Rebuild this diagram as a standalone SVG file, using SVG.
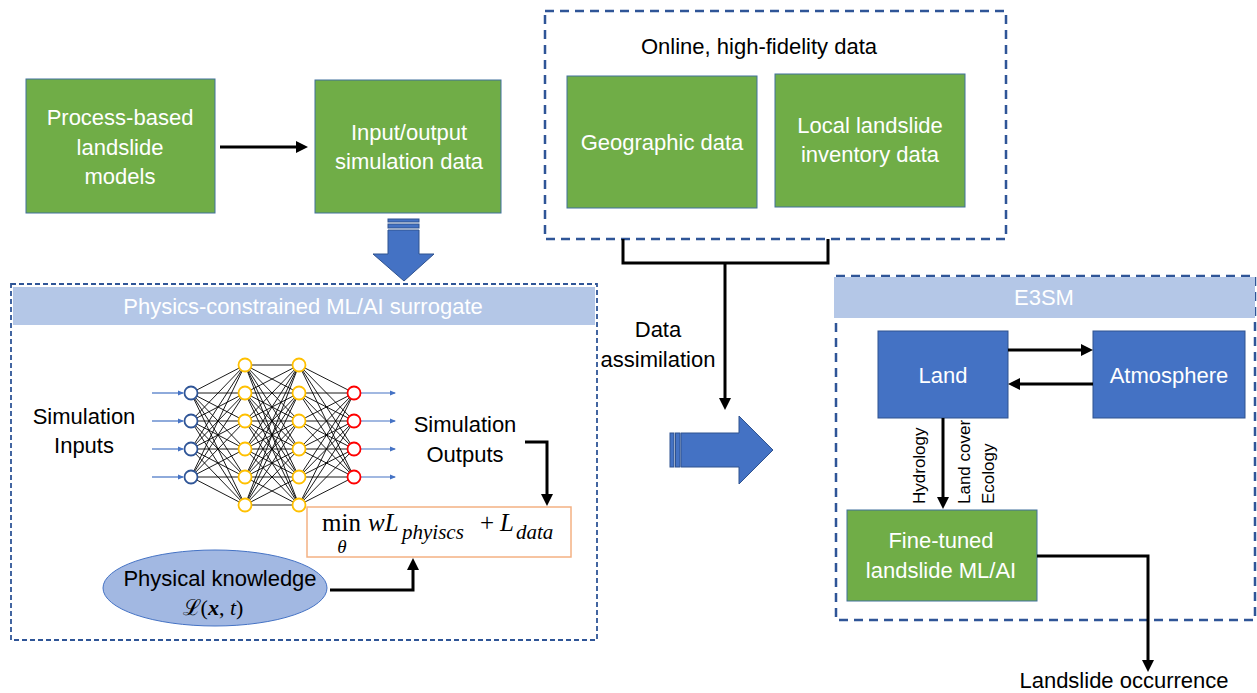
<svg xmlns="http://www.w3.org/2000/svg" width="1257" height="693" viewBox="0 0 1257 693">
<style>
text{font-family:"Liberation Sans",Arial,sans-serif;font-size:22px;fill:#000}
.w{fill:#fff}
.c{text-anchor:middle}
.green{fill:#70ad47;stroke:#41719c;stroke-width:1}
.blue{fill:#4472c4;stroke:#2f528f;stroke-width:1}
.band{fill:#b4c7e7}
.dash{fill:none;stroke:#2f5597;stroke-width:2.5;stroke-dasharray:9 6}
.dashs{fill:none;stroke:#2f5597;stroke-width:1.8;stroke-dasharray:5 3}
.conn{fill:none;stroke:#000;stroke-width:3}
.nn{fill:none;stroke:#000;stroke-width:0.9}
.ia{stroke:#4472c4;stroke-width:1.2}
.nin{fill:#fff;stroke:#2f5597;stroke-width:1.8}
.nh{fill:#fff;stroke:#ffc000;stroke-width:1.8}
.nout{fill:#fff;stroke:#ff0000;stroke-width:1.8}
text.math{font-family:"Liberation Serif","Times New Roman",serif}
text.big{font-size:25px}
text.sub{font-size:21px}
text.th{font-size:19px}
text.rot{font-size:17px}
.it{font-style:italic}
</style>
<defs>
<marker id="ah" markerUnits="userSpaceOnUse" markerWidth="12" markerHeight="12" refX="2" refY="6" orient="auto">
<path d="M0,0 L12,6 L0,12 z" fill="#000"/>
</marker>
<marker id="sa" markerUnits="userSpaceOnUse" markerWidth="6" markerHeight="6" refX="5" refY="3" orient="auto">
<path d="M0,0.5 L6,3 L0,5.5 z" fill="#4472c4"/>
</marker>
</defs>

<g id="panel-surrogate">
<rect class="dashs" x="11" y="284" width="586" height="356"/>
<rect class="band" x="13" y="287" width="582" height="38"/>
<text class="w c" x="303" y="314">Physics-constrained ML/AI surrogate</text>
</g>

<g id="panel-online">
<rect class="dash" x="545" y="11" width="461" height="228"/>
<text class="c" x="759" y="54">Online, high-fidelity data</text>
</g>

<g id="panel-e3sm">
<rect class="dash" x="836" y="276" width="419" height="344"/>
<rect class="band" x="834" y="277" width="421" height="41"/>
<text class="w c" x="1044" y="305">E3SM</text>
</g>

<g id="process-models">
<rect class="green" x="26" y="79" width="189" height="134"/>
<text class="w c" x="120" y="125">Process-based</text>
<text class="w c" x="120" y="155">landslide</text>
<text class="w c" x="120" y="184">models</text>
</g>

<g id="io-data">
<rect class="green" x="315" y="80" width="186" height="133"/>
<text class="w c" x="409" y="140">Input/output</text>
<text class="w c" x="409" y="169">simulation data</text>
</g>

<g id="geographic">
<rect class="green" x="567" y="76" width="190" height="132"/>
<text class="w c" x="662" y="150">Geographic data</text>
</g>

<g id="inventory">
<rect class="green" x="775" y="74" width="190" height="133"/>
<text class="w c" x="870" y="133">Local landslide</text>
<text class="w c" x="870" y="162">inventory data</text>
</g>

<g id="down-block-arrow">
<rect class="blue" x="388" y="219" width="31" height="3"/>
<rect class="blue" x="388" y="224" width="31" height="4"/>
<polygon class="blue" points="388,230 419,230 419,254 434,254 404,281 373,254 388,254"/>
</g>

<g id="right-block-arrow">
<rect class="blue" x="670" y="433" width="4" height="34"/>
<rect class="blue" x="675.5" y="433" width="4.5" height="34"/>
<polygon class="blue" points="681,433 739,433 739,416 773,450 739,484 739,467 681,467"/>
</g>

<g id="data-assimilation-label">
<text class="c" x="658" y="337">Data</text>
<text class="c" x="658" y="367">assimilation</text>
</g>

<g id="sim-inputs">
<text class="c" x="84" y="424">Simulation</text>
<text class="c" x="84" y="453">Inputs</text>
</g>

<g id="sim-outputs">
<text class="c" x="465" y="432">Simulation</text>
<text class="c" x="465" y="462">Outputs</text>
</g>

<g id="neural-network">
<path class="nn" d="M191 393L245 365M191 393L245 393M191 393L245 421M191 393L245 449M191 393L245 477M191 393L245 505M191 421L245 365M191 421L245 393M191 421L245 421M191 421L245 449M191 421L245 477M191 421L245 505M191 449L245 365M191 449L245 393M191 449L245 421M191 449L245 449M191 449L245 477M191 449L245 505M191 477L245 365M191 477L245 393M191 477L245 421M191 477L245 449M191 477L245 477M191 477L245 505"/>
<path class="nn" d="M245 365L299 365M245 365L299 393M245 365L299 421M245 365L299 449M245 365L299 477M245 365L299 505M245 393L299 365M245 393L299 393M245 393L299 421M245 393L299 449M245 393L299 477M245 393L299 505M245 421L299 365M245 421L299 393M245 421L299 421M245 421L299 449M245 421L299 477M245 421L299 505M245 449L299 365M245 449L299 393M245 449L299 421M245 449L299 449M245 449L299 477M245 449L299 505M245 477L299 365M245 477L299 393M245 477L299 421M245 477L299 449M245 477L299 477M245 477L299 505M245 505L299 365M245 505L299 393M245 505L299 421M245 505L299 449M245 505L299 477M245 505L299 505"/>
<path class="nn" d="M299 365L354 393M299 365L354 421M299 365L354 449M299 365L354 477M299 393L354 393M299 393L354 421M299 393L354 449M299 393L354 477M299 421L354 393M299 421L354 421M299 421L354 449M299 421L354 477M299 449L354 393M299 449L354 421M299 449L354 449M299 449L354 477M299 477L354 393M299 477L354 421M299 477L354 449M299 477L354 477M299 505L354 393M299 505L354 421M299 505L354 449M299 505L354 477"/>
<g>
<line class="ia" x1="152" y1="393" x2="183" y2="393" marker-end="url(#sa)"/>
<line class="ia" x1="152" y1="421" x2="183" y2="421" marker-end="url(#sa)"/>
<line class="ia" x1="152" y1="449" x2="183" y2="449" marker-end="url(#sa)"/>
<line class="ia" x1="152" y1="477" x2="183" y2="477" marker-end="url(#sa)"/>
<line class="ia" x1="361" y1="393" x2="395" y2="393" marker-end="url(#sa)"/>
<line class="ia" x1="361" y1="421" x2="395" y2="421" marker-end="url(#sa)"/>
<line class="ia" x1="361" y1="449" x2="395" y2="449" marker-end="url(#sa)"/>
<line class="ia" x1="361" y1="477" x2="395" y2="477" marker-end="url(#sa)"/>
</g>
<circle class="nin" cx="191" cy="393" r="6.5"/><circle class="nin" cx="191" cy="421" r="6.5"/><circle class="nin" cx="191" cy="449" r="6.5"/><circle class="nin" cx="191" cy="477" r="6.5"/>
<circle class="nh" cx="245" cy="365" r="6.5"/><circle class="nh" cx="245" cy="393" r="6.5"/><circle class="nh" cx="245" cy="421" r="6.5"/><circle class="nh" cx="245" cy="449" r="6.5"/><circle class="nh" cx="245" cy="477" r="6.5"/><circle class="nh" cx="245" cy="505" r="6.5"/>
<circle class="nh" cx="299" cy="365" r="6.5"/><circle class="nh" cx="299" cy="393" r="6.5"/><circle class="nh" cx="299" cy="421" r="6.5"/><circle class="nh" cx="299" cy="449" r="6.5"/><circle class="nh" cx="299" cy="477" r="6.5"/><circle class="nh" cx="299" cy="505" r="6.5"/>
<circle class="nout" cx="354" cy="393" r="6.5"/><circle class="nout" cx="354" cy="421" r="6.5"/><circle class="nout" cx="354" cy="449" r="6.5"/><circle class="nout" cx="354" cy="477" r="6.5"/>
</g>

<g id="loss-formula">
<rect x="307" y="507" width="264" height="50" fill="#fff" stroke="#f4b183" stroke-width="1.5"/>
<text class="math big" x="322" y="531">min</text>
<text class="math th c it" x="342" y="553">θ</text>
<text class="math big it" x="368" y="531">wL</text>
<text class="math sub it" x="402" y="539">phyiscs</text>
<text class="math big c" x="487" y="531">+</text>
<text class="math big it" x="500" y="531">L</text>
<text class="math sub it" x="516" y="539">data</text>
</g>

<g id="physical-knowledge">
<ellipse cx="215" cy="588" rx="112" ry="38" fill="#a2b8e2" stroke="#4472c4" stroke-width="1"/>
<text class="c" x="220" y="586">Physical knowledge</text>
<text class="math c" x="213" y="615">ℒ(<tspan font-weight="bold" font-style="italic">x</tspan>, <tspan font-style="italic">t</tspan>)</text>
</g>

<g id="land">
<rect class="blue" x="878" y="331" width="130" height="87"/>
<text class="w c" x="943" y="383">Land</text>
</g>

<g id="atmosphere">
<rect class="blue" x="1093" y="331" width="152" height="87"/>
<text class="w c" x="1169" y="383">Atmosphere</text>
</g>

<g id="fine-tuned">
<rect class="green" x="847" y="510" width="190" height="91"/>
<text class="w c" x="941" y="548">Fine-tuned</text>
<text class="w c" x="941" y="578">landslide ML/AI</text>
</g>

<g id="landslide-occurrence">
<text class="c" x="1124" y="688">Landslide occurrence</text>
</g>

<g id="connectors">
<path class="conn" d="M220,147 H298" marker-end="url(#ah)"/>
<path class="conn" d="M623,239 V263 H828 V239"/>
<path class="conn" d="M725,263 V400" marker-end="url(#ah)"/>
<path class="conn" d="M525,442 H547 V496" marker-end="url(#ah)"/>
<path class="conn" d="M330,590 H413 V568" marker-end="url(#ah)"/>
<path class="conn" d="M1008,350 H1083" marker-end="url(#ah)"/>
<path class="conn" d="M1093,384 H1018" marker-end="url(#ah)"/>
<path class="conn" d="M943,418 V499" marker-end="url(#ah)"/>
<path class="conn" d="M1037,556 H1148 V662" marker-end="url(#ah)"/>
<text class="rot" transform="translate(925,504) rotate(-90)">Hydrology</text>
<text class="rot" transform="translate(970,504) rotate(-90)">Land cover</text>
<text class="rot" transform="translate(994,504) rotate(-90)">Ecology</text>
</g>
</svg>
